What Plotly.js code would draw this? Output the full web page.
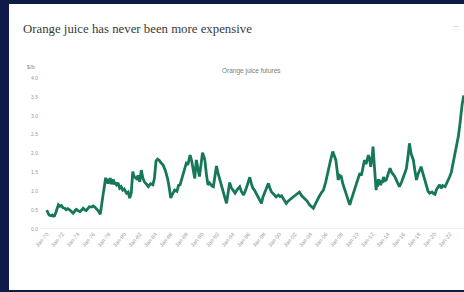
<!DOCTYPE html>
<html>
<head>
<meta charset="utf-8">
<script src="https://cdn.plot.ly/plotly-3.0.1.min.js"></script>
<style>
html,body{margin:0;padding:0;width:464px;height:292px;overflow:hidden;background:#0e1a47;}
#card{position:absolute;left:9px;top:4px;width:480px;height:286px;background:#fff;}
</style>
</head>
<body>
<div id="card"></div>
<script>
// Orange juice futures, $/lb
const years = [
1970.0,1970.15,1970.3,1970.5,1970.7,1970.85,1971.0,1971.2,1971.4,1971.5,1971.7,1971.9,1972.1,1972.3,1972.5,1972.7,
1973.0,1973.2,1973.4,1973.6,1973.8,1974.0,1974.3,1974.5,1974.7,1974.9,1975.1,1975.3,1975.5,1975.8,1976.0,1976.2,
1976.5,1976.7,1976.9,1977.1,1977.3,1977.5,1977.6,1977.7,1977.8,1977.9,1978.0,1978.1,1978.2,1978.3,1978.45,1978.6,
1978.7,1978.8,1979.0,1979.2,1979.4,1979.6,
1979.8,1980.0,1980.3,1980.5,1980.7,1980.9,1981.1,1981.3,1981.6,1981.8,1982.0,1982.2,1982.4,1982.6,1982.9,1983.1,
1983.4,1983.7,1983.9,1984.1,1984.3,1984.5,1984.8,1985.0,1985.3,1985.6,1985.8,1986.0,1986.2,1986.5,1986.8,1987.0,
1987.2,1987.4,1987.6,1987.8,1988.0,1988.2,1988.5,1988.7,1988.8,1989.0,1989.1,1989.3,1989.5,1989.7,1989.9,1990.1,
1990.3,1990.4,1990.6,1990.8,1991.0,1991.3,1991.5,1991.7,1991.9,1992.1,1992.3,1992.5,1992.8,1993.0,1993.2,1993.4,
1993.6,1993.8,1994.0,1994.3,1994.6,1994.9,1995.1,1995.4,1995.7,1995.9,1996.2,1996.4,1996.6,1996.8,1997.0,1997.3,
1997.5,1997.7,1997.9,1998.2,1998.4,1998.6,1998.8,1999.0,1999.3,1999.6,1999.9,2000.1,2000.3,2000.6,2000.9,2001.2,
2001.5,2001.8,2002.1,2002.4,2002.6,2002.9,2003.1,2003.3,2003.6,2003.9,2004.2,2004.4,2004.7,2005.0,2005.2,2005.5,
2005.7,2006.0,2006.3,2006.6,2006.9,2007.1,2007.3,2007.5,2007.6,2007.8,2008.0,2008.2,2008.5,2008.8,2009.1,2009.3,
2009.5,2009.7,2010.0,2010.2,2010.4,2010.6,2010.8,2011.0,2011.2,2011.5,2011.7,2011.8,2012.0,2012.1,2012.3,2012.5,
2012.6,2012.7,2012.8,2012.9,2013.0,2013.1,2013.2,2013.3,2013.45,2013.6,2013.8,2014.0,2014.3,2014.5,2014.7,2014.9,
2015.1,2015.3,2015.5,2015.8,2016.0,
2016.2,2016.4,2016.6,2016.8,2017.0,2017.3,2017.5,2017.7,2017.9,2018.1,2018.3,2018.5,2018.8,2019.0,2019.2,2019.4,
2019.7,2019.9,2020.1,2020.3,2020.5,2020.7,2020.9,2021.1,2021.4,2021.6,2021.8,2022.0,2022.2,2022.4,2022.6,2022.8,
2023.0,2023.1,2023.3,2023.4,2023.6,2023.8
];
const prices = [
0.50,0.42,0.37,0.35,0.37,0.34,0.35,0.45,0.58,0.64,0.60,0.62,0.56,0.55,0.51,0.54,
0.50,0.46,0.42,0.47,0.52,0.49,0.46,0.50,0.55,0.51,0.49,0.54,0.59,0.58,0.61,0.58,
0.52,0.47,0.39,0.62,0.95,1.22,1.36,1.25,1.33,1.20,1.30,1.22,1.35,1.19,1.28,1.31,
1.18,1.24,1.17,1.22,1.08,1.12,
1.03,1.06,0.95,0.98,0.82,0.95,1.52,1.38,1.33,1.42,1.25,1.56,1.35,1.25,1.18,1.12,
1.20,1.17,1.35,1.80,1.85,1.82,1.74,1.70,1.55,1.33,1.10,0.82,0.92,1.03,1.00,1.15,
1.17,1.30,1.47,1.60,1.74,1.70,1.96,1.80,1.65,1.38,1.34,1.83,1.60,1.39,1.70,2.02,
1.90,1.83,1.45,1.17,1.22,1.14,1.12,1.40,1.67,1.48,1.32,1.21,0.98,0.82,0.68,0.95,
1.23,1.10,1.05,0.95,1.05,1.12,1.00,0.90,1.05,1.20,1.37,1.20,1.08,1.03,0.95,0.80,
0.72,0.68,0.85,1.00,1.12,1.21,1.08,0.98,0.92,0.85,0.90,0.86,0.88,0.78,0.68,0.75,
0.80,0.85,0.90,0.96,0.98,0.88,0.84,0.81,0.74,0.64,0.60,0.55,0.68,0.81,0.88,0.98,
1.03,1.25,1.56,1.80,2.05,1.95,1.83,1.50,1.30,1.42,1.39,1.20,1.03,0.85,0.64,0.78,
0.92,1.03,1.25,1.40,1.48,1.42,1.65,1.83,1.72,1.96,1.80,1.65,1.95,2.18,1.60,1.03,
1.22,1.12,1.32,1.20,1.30,1.16,1.28,1.22,1.38,1.28,1.30,1.45,1.61,1.50,1.45,1.39,
1.30,1.20,1.12,1.25,1.38,
1.48,1.60,1.90,2.27,2.00,1.83,1.55,1.30,1.45,1.55,1.65,1.50,1.30,1.15,1.00,0.95,
0.98,0.94,0.92,1.05,1.10,1.17,1.08,1.15,1.12,1.20,1.30,1.39,1.50,1.70,1.88,2.05,
2.30,2.44,2.75,2.97,3.30,3.54
];
const tickYears = [1970,1972,1974,1976,1978,1980,1982,1984,1986,1988,1990,1992,1994,1996,1998,2000,2002,2004,2006,2008,2010,2012,2014,2016,2018,2020,2022];
const tickLabels = tickYears.map(y => 'Jan-' + String(y % 100).padStart(2, '0'));
const yTicks = [0, 0.5, 1.0, 1.5, 2.0, 2.5, 3.0, 3.5, 4.0];
const yTickLabels = yTicks.map(v => v.toFixed(1));

const W = 480, H = 286, L = 30, T = 74, PW = 434, PH = 151;
const px = x => (x - L) / PW;
const py = y => (T + PH - y) / PH;

const data = [{
  x: years, y: prices, type: 'scatter', mode: 'lines',
  line: {color: '#16775a', width: 2.8, shape: 'linear'},
  hoverinfo: 'skip'
}];

const layout = {
  width: W, height: H,
  margin: {l: L, r: W - L - PW, t: T, b: H - T - PH, pad: 0},
  paper_bgcolor: '#ffffff', plot_bgcolor: '#ffffff',
  showlegend: false,
  title: {
    text: 'Orange juice has never been more expensive',
    font: {family: 'Liberation Serif, Times New Roman, serif', size: 12.8, color: '#3a3a3a'},
    xref: 'container', x: 14 / W, xanchor: 'left',
    yref: 'container', y: 1 - 25 / H, yanchor: 'middle'
  },
  xaxis: {
    range: [1969, 2025], showgrid: false, zeroline: false,
    showline: false, ticks: '',
    tickvals: tickYears, ticktext: tickLabels, tickangle: -50,
    tickfont: {family: 'Liberation Sans, Arial, sans-serif', size: 5.5, color: '#9a9a9a'},
    fixedrange: true
  },
  yaxis: {
    range: [0, 4.0], showgrid: false, zeroline: false,
    showline: false, ticks: '',
    tickvals: yTicks, ticktext: yTickLabels,
    tickfont: {family: 'Liberation Sans, Arial, sans-serif', size: 5, color: '#9a9a9a'},
    fixedrange: true
  },
  shapes: [{
    type: 'line', xref: 'paper', yref: 'y', x0: 0, x1: 1, y0: 0, y1: 0,
    line: {color: '#e2e2e2', width: 1}, layer: 'below'
  }],
  annotations: [
    {text: 'Orange juice futures', xref: 'paper', yref: 'paper', x: px(242), y: py(67),
     xanchor: 'center', yanchor: 'middle', showarrow: false,
     font: {family: 'Liberation Sans, Arial, sans-serif', size: 6.5, color: '#7a7a7a'}},
    {text: '$/lb', xref: 'paper', yref: 'paper', x: px(22), y: py(63),
     xanchor: 'center', yanchor: 'middle', showarrow: false,
     font: {family: 'Liberation Sans, Arial, sans-serif', size: 5, color: '#8a8a8a'}},
    {text: '\u2014', xref: 'paper', yref: 'paper', x: px(447), y: py(22),
     xanchor: 'center', yanchor: 'middle', showarrow: false,
     font: {family: 'Liberation Sans, Arial, sans-serif', size: 6, color: '#b0b0b0'}}
  ]
};

Plotly.newPlot('card', data, layout, {displayModeBar: false, staticPlot: true});
</script>
</body>
</html>
